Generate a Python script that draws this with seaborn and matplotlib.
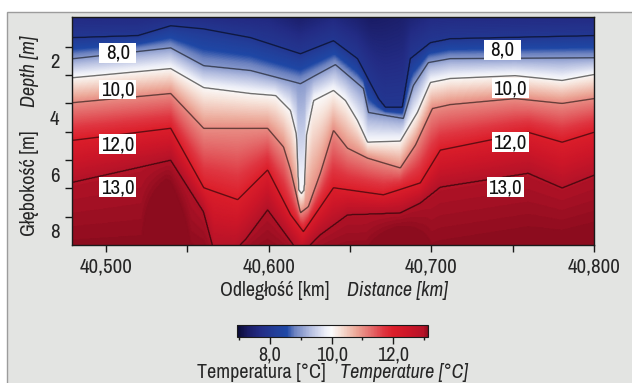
import numpy as np
import matplotlib
matplotlib.use("Agg")
import matplotlib.pyplot as plt
from matplotlib.colors import LinearSegmentedColormap
from matplotlib.patches import Rectangle
import seaborn as sns

# ---------------- data ----------------
# isotherm positions: distance [km] and depth [m]
ISO_LEVELS = [8, 9, 10, 11, 12, 13]

ISO8_KM = [40480, 40519.5, 40539.7, 40560, 40588.8, 40619.5, 40639.8, 40654.5,
           40667.4, 40671.7, 40682.2, 40687.1, 40699.4, 40711.6, 40800]
ISO8_DEPTH = [1.18, 1.11, 0.76, 0.87, 1.18, 1.75, 1.29, 1.92,
              3.33, 3.64, 3.64, 1.92, 1.36, 1.22, 1.11]

ISO9_KM = [40480, 40539.7, 40560, 40588.8, 40607.3, 40619.5, 40641, 40658.2,
           40661.3, 40682.8, 40688.9, 40698.1, 40711.6, 40800]
ISO9_DEPTH = [1.92, 1.54, 2.17, 2.34, 2.62, 2.80, 2.13, 2.97,
              3.82, 4.03, 2.87, 2.06, 1.92, 1.89]

ISO10_KM = [40480, 40539.7, 40560, 40588.8, 40604.2, 40613.4, 40617.1, 40618.3,
            40620.1, 40621.9, 40623.2, 40627.5, 40639.8, 40647.2, 40654.5, 40660.7,
            40680.9, 40691.4, 40699.4, 40711.6, 40751.5, 40780.4, 40800]
ISO10_DEPTH = [2.59, 2.27, 2.94, 3.15, 3.22, 3.75, 4.62, 6.55,
               6.69, 6.55, 4.62, 3.40, 3.04, 3.40, 4.10, 4.87,
               4.83, 3.82, 2.76, 2.62, 2.52, 2.69, 2.48]

ISO11_KM = [40480, 40539.7, 40560, 40599.3, 40609.1, 40613.4, 40619.5, 40624.4,
            40631.8, 40639.8, 40648.4, 40660.7, 40680.9, 40690.2, 40700.6, 40711.6,
            40751.5, 40780.4, 40800]
ISO11_DEPTH = [3.47, 3.15, 4.38, 4.38, 5.04, 5.85, 7.36, 7.15,
               5.96, 4.45, 5.08, 5.43, 5.78, 4.97, 3.68, 3.54,
               3.33, 3.50, 3.33]

ISO12_KM = [40480, 40539.7, 40560, 40580.9, 40599.3, 40613.4, 40621.3, 40639.8,
            40670.5, 40693.2, 40705.5, 40759.5, 40780.4, 40800]
ISO12_DEPTH = [4.80, 4.38, 6.48, 6.90, 5.85, 7.43, 8.03, 6.48,
               6.73, 6.31, 5.15, 4.52, 4.87, 4.52]

ISO13_KM = [40480, 40539.7, 40560, 40566.1, 40579.6, 40585.7, 40599.3, 40619.5,
            40631.8, 40648.4, 40680.9, 40693.2, 40705.5, 40759.5, 40780.4, 40800]
ISO13_DEPTH = [6.27, 5.50, 7.33, 8.66, 8.66, 8.30, 7.25, 8.83,
               8.13, 7.43, 7.36, 7.01, 6.45, 5.96, 6.48, 6.03]

# temperature near the surface and below the bottom of the section
SURFACE_DEPTH = 0.3
SURFACE_KM = [40480, 40600, 40619, 40640, 40663, 40680, 40700, 40800]
SURFACE_T = [7.6, 7.55, 7.3, 7.55, 7.25, 7.35, 7.6, 7.6]
BOTTOM_DEPTH = 9.2
BOTTOM_KM = [40480, 40522, 40537, 40552, 40660, 40680, 40700, 40800]
BOTTOM_T = [13.15, 13.15, 13.6, 13.15, 13.15, 13.4, 13.15, 13.2]

X_TICKS = [40500, 40600, 40700, 40800]
X_TICK_LABELS = ["40,500", "40,600", "40,700", "40,800"]
X_MINOR = [40550, 40650, 40750]
Y_TICKS = [2, 4, 6, 8]
Y_TICK_LABELS = ["2", "4", "6", "8"]
Y_MINOR = [1.5, 2.5, 3.5, 4.5, 5.5, 6.5, 7.5]
CB_TICKS = [8, 10, 12]
CB_TICK_LABELS = ["8,0", "10,0", "12,0"]
CB_MINOR = [7, 9, 11, 13]
ISO_LABELS = ["8,0", "10,0", "12,0", "13,0"]

VMIN, VMAX = 6.93, 13.13

# ---------------- style ----------------
sns.set_theme(style="ticks")
plt.rcParams["font.family"] = ["Archivo Narrow", "DejaVu Sans"]
TXT = "#262626"
FS = 15
FS_TITLE = 14.5

stops = [(6.93, "#0a0a32"), (7.3, "#1a1c66"), (7.7, "#232d86"), (8.2, "#223f9a"),
         (8.55, "#1f48a6"), (8.8, "#6c82c0"), (9.3, "#b3bde0"), (9.8, "#eceef8"),
         (10.0, "#fbfbfb"), (10.3, "#f6e0d6"), (10.8, "#eca898"), (11.3, "#e46a6a"),
         (11.7, "#df3540"), (12.0, "#dc1e2a"), (12.5, "#cc1628"), (13.0, "#b51328"),
         (13.13, "#8c0c1e")]
cmap = LinearSegmentedColormap.from_list(
    "temp", [((t - VMIN) / (VMAX - VMIN), c) for t, c in stops])

# ---------------- temperature field from isotherms ----------------
isos = [(ISO8_KM, ISO8_DEPTH), (ISO9_KM, ISO9_DEPTH), (ISO10_KM, ISO10_DEPTH),
        (ISO11_KM, ISO11_DEPTH), (ISO12_KM, ISO12_DEPTH), (ISO13_KM, ISO13_DEPTH)]
xg = np.linspace(40479, 40800, 800)
dg = np.linspace(0.45, 8.5, 360)
iso_d = np.array([np.interp(xg, k, d) for k, d in isos])
top_t = np.interp(xg, SURFACE_KM, SURFACE_T)
bot_t = np.interp(xg, BOTTOM_KM, BOTTOM_T)
T = np.empty((dg.size, xg.size))
for j in range(xg.size):
    dep = np.concatenate([[SURFACE_DEPTH], iso_d[:, j], [BOTTOM_DEPTH]])
    dep = np.maximum.accumulate(dep + np.arange(dep.size) * 1e-6)
    val = np.concatenate([[top_t[j]], ISO_LEVELS, [bot_t[j]]])
    T[:, j] = np.interp(dg, dep, val)

# ---------------- figure ----------------
W, H = 632, 383
fig = plt.figure(figsize=(W / 100, H / 100), dpi=100)
fig.patch.set_facecolor("white")
fig.add_artist(Rectangle((7 / W, -0.02), 1.0, 1 - 12 / H + 0.02, transform=fig.transFigure,
                         facecolor="#e3e4e2", edgecolor="#9c9c9c", lw=1.0, zorder=-5))

ax = fig.add_axes([72 / W, 1 - 245 / H, (594 - 72) / W, (245 - 17) / H])
mesh = ax.pcolormesh(xg, dg, T, cmap=cmap, vmin=VMIN, vmax=VMAX, shading="gouraud",
                     rasterized=True)
ax.contour(xg, dg, T, levels=ISO_LEVELS, colors="black", alpha=0.55, linewidths=1.0)
ax.set_xlim(40479, 40800)
ax.set_ylim(8.5, 0.45)

for s in ax.spines.values():
    s.set_color("#1a1a1a")
    s.set_linewidth(1.0)

ax.set_xticks(X_TICKS)
ax.set_xticklabels(X_TICK_LABELS)
ax.set_xticks(X_MINOR, minor=True)
ax.set_yticks(Y_TICKS)
ax.set_yticklabels(Y_TICK_LABELS)
ax.set_yticks(Y_MINOR, minor=True)
ax.tick_params(axis="x", which="both", bottom=True, direction="out", length=5, width=1,
               color="#1a1a1a", labelsize=FS, labelcolor=TXT, pad=4)
ax.tick_params(axis="y", which="major", left=True, length=0, labelsize=FS,
               labelcolor=TXT, pad=9)
ax.tick_params(axis="y", which="minor", left=True, direction="out", length=5, width=1,
               color="#1a1a1a")

# isotherm labels in white boxes
px_km = 1 / 1.629
px_m = 1 / 28.5
label_pos = [(40507.2, 1.71), (40507.2, 3.01), (40507.2, 4.94), (40507.2, 6.45),
             (40743.5, 1.61), (40748.4, 2.96), (40748.4, 4.87), (40745.3, 6.45)]
bw, bh = 37 * px_km, 20 * px_m
for i, (cx, cy) in enumerate(label_pos):
    ax.add_patch(Rectangle((cx - bw / 2, cy - bh / 2), bw, bh, facecolor="white",
                           edgecolor="none", zorder=3))
    ax.text(cx, cy + 0.02, ISO_LABELS[i % 4], ha="center", va="center", fontsize=FS,
            color="#111111", zorder=4)

# axis titles (Polish + English italic)
fig.text(29.5 / W, 1 - 183.5 / H, "Głębokość [m]", rotation=90, ha="center",
         va="center", fontsize=FS_TITLE, color=TXT)
fig.text(29.5 / W, 1 - 71.5 / H, "Depth [m]", rotation=90, ha="center", va="center",
         fontsize=FS_TITLE, color=TXT, style="italic")
fig.text(274.5 / W, 1 - 291 / H, "Odległość [km]", ha="center", va="center",
         fontsize=FS_TITLE, color=TXT)
fig.text(397.5 / W, 1 - 291 / H, "Distance [km]", ha="center", va="center",
         fontsize=FS_TITLE, color=TXT, style="italic")

# colorbar
cax = fig.add_axes([237 / W, 1 - 337 / H, 191 / W, 12 / H])
cb = fig.colorbar(mesh, cax=cax, orientation="horizontal")
cb.outline.set_linewidth(0.8)
cb.outline.set_edgecolor("#1a1a1a")
cb.set_ticks(CB_TICKS)
cb.set_ticklabels(CB_TICK_LABELS)
cax.set_xticks(CB_MINOR, minor=True)
cax.tick_params(axis="x", which="major", bottom=True, direction="out", length=5, width=1,
                color="#1a1a1a", labelsize=FS - 0.5, labelcolor=TXT, pad=1)
cax.tick_params(axis="x", which="minor", bottom=True, direction="out", length=2.5,
                width=1, color="#1a1a1a")
fig.text(261.5 / W, 1 - 373 / H, "Temperatura [°C]", ha="center", va="center",
         fontsize=FS_TITLE, color=TXT)
fig.text(403.5 / W, 1 - 373 / H, "Temperature [°C]", ha="center", va="center",
         fontsize=FS_TITLE, color=TXT, style="italic")

fig.savefig("out.png", dpi=100, facecolor=fig.get_facecolor())
